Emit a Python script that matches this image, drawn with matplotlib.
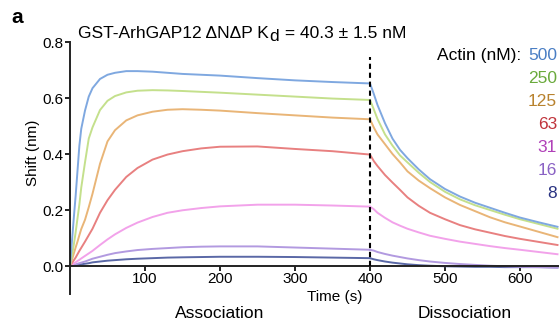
import matplotlib
matplotlib.use('Agg')
import matplotlib.pyplot as plt

plt.rcParams['font.family'] = ['Liberation Sans', 'DejaVu Sans']
plt.rcParams['mathtext.fontset'] = 'custom'
plt.rcParams['mathtext.rm'] = 'Liberation Sans'

# time points (s)
t_assoc = [0, 2.5, 5, 7.5, 10, 12.5, 15, 20, 25, 30, 40, 50, 60, 75, 90, 110, 130, 150, 175, 200, 250, 300, 350, 400]
t_dissoc = [400, 405, 410, 420, 430, 440, 450, 465, 480, 500, 520, 540, 560, 580, 600, 625, 650]

# shift (nm), association phase
assoc_500 = [0, 0.085, 0.17, 0.25, 0.34, 0.43, 0.49, 0.555, 0.605, 0.635, 0.668, 0.683, 0.69, 0.696, 0.696, 0.694, 0.69, 0.686, 0.683, 0.68, 0.671, 0.663, 0.657, 0.652]
assoc_250 = [0, 0.035, 0.075, 0.12, 0.17, 0.22, 0.28, 0.37, 0.455, 0.495, 0.557, 0.59, 0.607, 0.62, 0.626, 0.628, 0.627, 0.625, 0.622, 0.619, 0.612, 0.605, 0.598, 0.593]
assoc_125 = [0, 0.022, 0.044, 0.066, 0.087, 0.11, 0.132, 0.165, 0.21, 0.258, 0.365, 0.445, 0.485, 0.52, 0.538, 0.551, 0.558, 0.56, 0.558, 0.555, 0.546, 0.538, 0.53, 0.524]
assoc_63 = [0, 0.01, 0.02, 0.03, 0.042, 0.054, 0.065, 0.087, 0.11, 0.133, 0.19, 0.235, 0.272, 0.318, 0.35, 0.38, 0.398, 0.41, 0.42, 0.426, 0.427, 0.418, 0.41, 0.398]
assoc_31 = [0, 0.004, 0.009, 0.013, 0.018, 0.022, 0.027, 0.036, 0.045, 0.054, 0.075, 0.095, 0.113, 0.136, 0.155, 0.175, 0.19, 0.199, 0.207, 0.213, 0.219, 0.219, 0.216, 0.212]
assoc_16 = [0, 0.002, 0.004, 0.006, 0.008, 0.01, 0.012, 0.016, 0.021, 0.026, 0.033, 0.04, 0.046, 0.052, 0.057, 0.061, 0.064, 0.067, 0.069, 0.07, 0.07, 0.066, 0.062, 0.058]
assoc_8 = [0, 0.001, 0.002, 0.003, 0.004, 0.005, 0.006, 0.008, 0.01, 0.013, 0.016, 0.019, 0.021, 0.024, 0.026, 0.028, 0.03, 0.031, 0.032, 0.033, 0.033, 0.032, 0.03, 0.028]

# shift (nm), dissociation phase
dissoc_500 = [0.652, 0.615, 0.575, 0.51, 0.455, 0.415, 0.385, 0.345, 0.31, 0.275, 0.248, 0.226, 0.208, 0.19, 0.173, 0.156, 0.14]
dissoc_250 = [0.593, 0.56, 0.525, 0.47, 0.43, 0.395, 0.37, 0.333, 0.3, 0.265, 0.238, 0.217, 0.2, 0.183, 0.167, 0.15, 0.133]
dissoc_125 = [0.524, 0.495, 0.47, 0.435, 0.4, 0.37, 0.338, 0.305, 0.278, 0.245, 0.218, 0.196, 0.174, 0.156, 0.141, 0.122, 0.103]
dissoc_63 = [0.398, 0.375, 0.357, 0.325, 0.298, 0.272, 0.245, 0.215, 0.19, 0.167, 0.146, 0.131, 0.119, 0.107, 0.097, 0.086, 0.075]
dissoc_31 = [0.212, 0.203, 0.19, 0.172, 0.156, 0.144, 0.133, 0.12, 0.108, 0.097, 0.087, 0.079, 0.071, 0.064, 0.058, 0.05, 0.042]
dissoc_16 = [0.058, 0.055, 0.05, 0.043, 0.037, 0.032, 0.027, 0.021, 0.016, 0.011, 0.007, 0.004, 0.001, -0.001, -0.003, -0.004, -0.006]
dissoc_8 = [0.028, 0.024, 0.021, 0.016, 0.012, 0.009, 0.006, 0.003, 0.001, -0.001, -0.002, -0.003, -0.003, -0.004, -0.004, -0.004, -0.005]

conc_labels = ['500', '250', '125', '63', '31', '16', '8']
line_colors = ['#7fa8e0', '#c4e08c', '#e9b577', '#e88080', '#f2a2ea', '#b29ae0', '#5a68a6']
text_colors = ['#4a7ec4', '#6aaa3c', '#b8822e', '#c0343c', '#b040b8', '#8a62c4', '#2a3382']

assoc = [assoc_500, assoc_250, assoc_125, assoc_63, assoc_31, assoc_16, assoc_8]
dissoc = [dissoc_500, dissoc_250, dissoc_125, dissoc_63, dissoc_31, dissoc_16, dissoc_8]

W, H = 559, 322
fig = plt.figure(figsize=(W / 100, H / 100), dpi=100)
ax = fig.add_axes([70 / W, (H - 294) / H, (W - 70) / W, 252 / H])

# draw smallest first so the big curves sit on top
for a, d, c in reversed(list(zip(assoc, dissoc, line_colors))):
    ax.plot(t_assoc, a, color=c, lw=1.4, solid_joinstyle='round')
    ax.plot(t_dissoc, d, color=c, lw=1.4, solid_joinstyle='round')

ax.vlines(400, 0, 0.745, colors='black', linestyles=(0, (2.5, 1.8)), lw=1.5, zorder=5)

ax.set_xlim(0, 652)
ax.set_ylim(-0.1, 0.8)
ax.spines['top'].set_visible(False)
ax.spines['right'].set_visible(False)
ax.spines['bottom'].set_position(('data', 0))
for s in ['left', 'bottom']:
    ax.spines[s].set_linewidth(1.4)
    ax.spines[s].set_color('#222222')
ax.set_xticks([100, 200, 300, 400, 500, 600])
ax.set_yticks([0, 0.2, 0.4, 0.6, 0.8])
ax.set_yticklabels(['0.0', '0.2', '0.4', '0.6', '0.8'])
ax.tick_params(axis='both', direction='out', length=3.5, width=1.4, labelsize=11, pad=1.5, color='#222222')
ax.tick_params(axis='x', pad=1)

fig.text(33 / W, (H - 153) / H, 'Shift (nm)', rotation=90, ha='center', va='center', fontsize=11)
fig.text(335 / W, (H - 301) / H, 'Time (s)', ha='center', va='baseline', fontsize=11)
fig.text(220 / W, (H - 318) / H, 'Association', ha='center', va='baseline', fontsize=12.5)
fig.text(465 / W, (H - 318) / H, 'Dissociation', ha='center', va='baseline', fontsize=12.5)
fig.text(11 / W, (H - 23) / H, 'a', ha='left', va='baseline', fontsize=15, fontweight='bold')

# title with a lowered full-size "d"
t1 = fig.text(78 / W, (H - 41) / H, 'GST-ArhGAP12 \u0394N\u0394P K', ha='left', va='bottom', fontsize=12.5)
t2 = ax.annotate('d', xy=(1, 0), xycoords=t1, xytext=(0, -2), textcoords='offset points',
                 ha='left', va='bottom', fontsize=12.5, annotation_clip=False)
ax.annotate(' = 40.3 \u00b1 1.5 nM', xy=(1, 0), xycoords=t2, xytext=(1, 2), textcoords='offset points',
            ha='left', va='bottom', fontsize=12.5, annotation_clip=False)

fig.text(521 / W, (H - 60) / H, 'Actin (nM):', ha='right', va='baseline', fontsize=12.5)
for i, (lab, c) in enumerate(zip(conc_labels, text_colors)):
    fig.text(557 / W, (H - 60 - 23.05 * i) / H, lab, ha='right', va='baseline', fontsize=12.5, color=c)

fig.savefig('out.png', dpi=100)
